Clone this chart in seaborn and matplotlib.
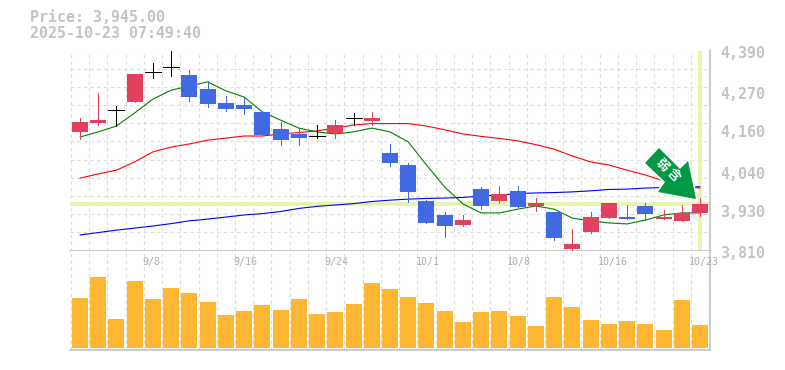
import numpy as np
import pandas as pd
import matplotlib
matplotlib.use("Agg")
import matplotlib.pyplot as plt
from matplotlib.patches import Polygon
import seaborn as sns

sns.set_style("white")
plt.rcParams['font.family'] = ['DejaVu Sans Mono', 'Noto Sans CJK JP']

opens  = [4154,4180,4217,4241,4328,4342,4319,4278,4238,4232,4212,4162,4148,4142,4151,4194,4186,4093,4058,3954,3913,3884,3988,3954,3983,3939,3922,3814,3864,3904,3907,3939,3901,3895,3919]
closes = [4183,4188,4217,4322,4328,4342,4255,4235,4220,4220,4145,4130,4136,4142,4174,4194,4194,4064,3980,3890,3881,3898,3939,3974,3936,3948,3846,3829,3907,3948,3901,3916,3907,3919,3945]
highs  = [4194,4267,4229,4322,4354,4390,4333,4302,4258,4252,4212,4183,4162,4174,4188,4209,4212,4119,4064,3956,3922,3913,3994,3997,3997,3962,3922,3872,3922,3948,3942,3948,3927,3942,3962]
lows   = [4133,4174,4171,4241,4310,4316,4244,4226,4215,4206,4145,4116,4116,4136,4136,4174,4174,4055,3951,3890,3849,3881,3930,3948,3936,3925,3840,3811,3861,3904,3901,3898,3901,3895,3910]
ma_short = [4139,4154,4171,4209,4249,4275,4287,4299,4273,4255,4212,4188,4165,4154,4148,4154,4165,4154,4125,4058,3994,3945,3919,3919,3930,3939,3930,3904,3896,3890,3887,3898,3913,3919,3919]
ma_mid = [4020,4032,4043,4067,4096,4110,4119,4130,4136,4142,4142,4148,4152,4157,4165,4174,4178,4178,4178,4171,4160,4148,4141,4135,4128,4117,4104,4084,4067,4058,4043,4029,4012,3997,3991]
ma_long = [3855,3862,3869,3875,3881,3888,3896,3901,3907,3913,3917,3923,3932,3938,3942,3946,3952,3956,3959,3961,3962,3964,3968,3971,3975,3977,3978,3980,3983,3987,3988,3991,3993,3994,3995]
volumes = [50,71,29,67,49,60,55,46,33,37,43,38,49,34,36,44,65,59,51,45,37,26,36,37,32,22,51,41,28,24,27,24,18,48,23]
price_labels = [4390,4270,4160,4040,3930,3810]
date_labels = ["9/8","9/16","9/24","10/1","10/8","10/16","10/23"]
date_index = [4,9,14,19,24,29,34]
current_price = 3945

RED, BLUE, BLACK = "#E2405F", "#4169E1", "#000000"
TXT = "#C4C4C4"
HL = "#E4F5A8"
GRID = "#DCDCDC"
W, H = 785, 370

fig = plt.figure(figsize=(W/100, H/100), dpi=100, facecolor="white")
ax = fig.add_axes([70/W, (H-250.5)/H, 640/W, 200/H])
av = fig.add_axes([70/W, (H-350)/H, 640/W, 99.5/H])

pos = np.arange(len(opens))
df = pd.DataFrame(dict(pos=pos, short=ma_short, mid=ma_mid, long=ma_long, vol=volumes))

# moving averages
for col, c in [("mid", "#FF0000"), ("long", "#0000FF"), ("short", "#008000")]:
    sns.lineplot(data=df, x="pos", y=col, color=c, lw=0.8, ax=ax, zorder=3)

# current price guides
ax.axhline(current_price, color=HL, lw=2.6, zorder=2)
ax.axvline(pos[-1], color=HL, lw=2.6, zorder=2, ymax=0.995)

# candles
bw = 16/18.235
for i, (o, c, h, l) in enumerate(zip(opens, closes, highs, lows)):
    col = BLACK if o == c else (RED if c > o else BLUE)
    ax.vlines(i, l, h, color=col, lw=0.72, zorder=4, antialiased=False)
    if o == c:
        ax.hlines(o, i-bw/2, i+bw/2, color=col, lw=0.72, zorder=4, antialiased=False)
    else:
        ax.bar(i, abs(c-o), bottom=min(o, c), width=bw, color=col, zorder=5, antialiased=False, lw=0)

# volume
sns.barplot(data=df, x="pos", y="vol", native_scale=True, color="#FFB733", saturation=1,
            width=bw, ax=av, zorder=3, linewidth=0)

for a in (ax, av):
    a.set_xlim(-10/18.235, 630/18.235)
    a.set_xticks(pos-0.5)
    a.set_xlabel(""); a.set_ylabel("")
    a.tick_params(length=0, labelbottom=False, labelleft=False)
    a.grid(True, axis="x", color=GRID, ls=(0, (3, 3)), lw=0.8)
    a.set_axisbelow(True)
    for s in ("top", "left"):
        a.spines[s].set_visible(False)
    for s in ("bottom", "right"):
        a.spines[s].set_color("#BDBDBD")
        a.spines[s].set_linewidth(1.1)
ax.set_ylim(3810, 4390)
ax.set_yticks(np.linspace(3810, 4390, 12))
ax.grid(True, axis="y", color=GRID, ls=(0, (3, 3)), lw=0.8)
av.set_ylim(-2, 97.5)
av.set_yticks([])
ax.patch.set_alpha(0)

# labels
for p in price_labels:
    ax.annotate(f"{p:,}", xy=(1, p), xycoords=ax.get_yaxis_transform(), xytext=(7.2, -2.2),
                textcoords="offset points", ha="left", va="center", fontsize=10.8,
                color=TXT, annotation_clip=False, fontweight="bold")
for d, i in zip(date_labels, date_index):
    av.annotate(d, xy=(i-0.6, 1), xycoords=av.get_xaxis_transform(), xytext=(0, -8),
                textcoords="offset points", ha="left", va="center", fontsize=7.2,
                color="#AEAEAE", annotation_clip=False, zorder=6)

fig.text(30/W, 1-18/H, "Price: 3,945.00", fontsize=10.8, color=TXT, va="center", ha="left", fontweight="bold")
fig.text(30/W, 1-33/H, "2025-10-23 07:49:40", fontsize=10.8, color=TXT, va="center", ha="left", fontweight="bold")

# signal arrow
arrow_px = [(659,148),(645,163),(665,182),(658,192),(696,199),(688,161),(680,169)]
arrow_xy = [(x/W, 1-y/H) for x, y in arrow_px]
fig.add_artist(Polygon(arrow_xy, closed=True, transform=fig.transFigure,
                       facecolor="white", edgecolor="white", lw=2.5, zorder=7))
fig.add_artist(Polygon(arrow_xy, closed=True, transform=fig.transFigure,
                       facecolor="#009944", edgecolor="none", lw=0, zorder=8))
for ch, (x, y) in zip("弱含", [(662,165),(673,175)]):
    fig.text(x/W, 1-y/H, ch, fontsize=9, color="white", rotation=-45, rotation_mode="anchor",
             ha="center", va="center", fontweight="bold", zorder=9,
             family=['Noto Sans CJK JP', 'DejaVu Sans'])

fig.savefig("out.png", dpi=100)
